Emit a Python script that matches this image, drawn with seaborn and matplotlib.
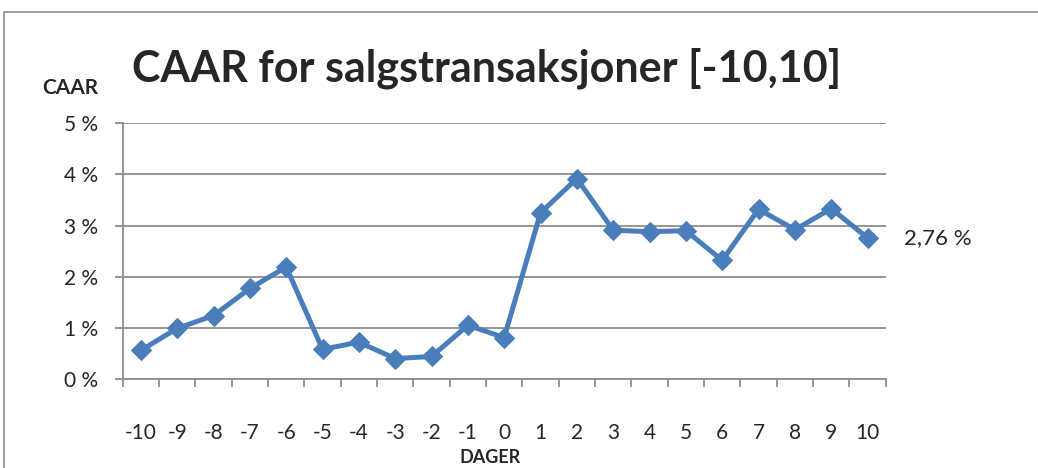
import matplotlib
matplotlib.use('Agg')
import matplotlib.pyplot as plt
import seaborn as sns
import pandas as pd
from matplotlib.ticker import FuncFormatter, FixedLocator

# data
dager = [-10, -9, -8, -7, -6, -5, -4, -3, -2, -1, 0, 1, 2, 3, 4, 5, 6, 7, 8, 9, 10]
caar = [0.56, 0.99, 1.24, 1.77, 2.19, 0.58, 0.72, 0.40, 0.44, 1.05, 0.81,
        3.25, 3.92, 2.91, 2.88, 2.90, 2.32, 3.32, 2.92, 3.33, 2.76]
tick_labels = [str(d) for d in dager]

sns.set_style('white')
plt.rcParams['font.family'] = ['Lato', 'DejaVu Sans']

df = pd.DataFrame({'pos': range(len(dager)), 'caar': caar})

fig = plt.figure(figsize=(10.38, 4.68), dpi=100)
ax = fig.add_axes([0.1182, 0.1902, 0.7351, 0.5463])

sns.lineplot(data=df, x='pos', y='caar', ax=ax, color='#4a7ebb', linewidth=3.6,
             marker='D', markersize=10, markeredgecolor='#4a7ebb')

ax.set_ylim(0, 5)
ax.set_xlim(-0.5, len(dager) - 0.5)
ax.set_yticks(range(6))
ax.yaxis.set_major_formatter(FuncFormatter(lambda v, p: f'{int(v)} %'))
ax.grid(axis='y', color='#8c8c8c', linewidth=1.3)
ax.set_axisbelow(True)

# category labels centred, ticks between categories
ax.set_xticks(range(len(dager)))
ax.set_xticklabels(tick_labels)
ax.xaxis.set_minor_locator(FixedLocator([i - 0.5 for i in range(len(dager) + 1)]))
ax.tick_params(axis='x', which='major', length=0, pad=32, labelsize=15)
ax.tick_params(axis='x', which='minor', length=6, width=1.3, color='#8c8c8c', bottom=True)
ax.tick_params(axis='y', length=6, width=1.3, color='#8c8c8c', left=True, labelsize=15, pad=12)

for s in ['top', 'right']:
    ax.spines[s].set_visible(False)
for s in ['left', 'bottom']:
    ax.spines[s].set_color('#8c8c8c')
    ax.spines[s].set_linewidth(1.3)

ax.set_xlabel('')
ax.set_ylabel('')

# data label for last point
ax.annotate(f'{caar[-1]:.2f} %'.replace('.', ','), xy=(len(dager) - 1, caar[-1]),
            xytext=(26, 0), textcoords='offset points', va='center', ha='left', fontsize=16)

fig.text(0.472, 0.022, 'DAGER', fontsize=13, fontweight='bold', ha='center', va='center')
fig.text(0.0405, 0.812, 'CAAR', fontsize=15, fontweight='bold', ha='left', va='center')
fig.text(0.469, 0.855, 'CAAR for salgstransaksjoner [-10,10]', fontsize=31,
         fontweight='bold', ha='center', va='center')

# chart frame like the original
fig.patches.append(plt.Rectangle((0.004, -0.1), 1.2, 1.074, transform=fig.transFigure,
                                 fill=False, edgecolor='#8c8c8c', linewidth=1.2))

fig.savefig('out.png', dpi=100)
